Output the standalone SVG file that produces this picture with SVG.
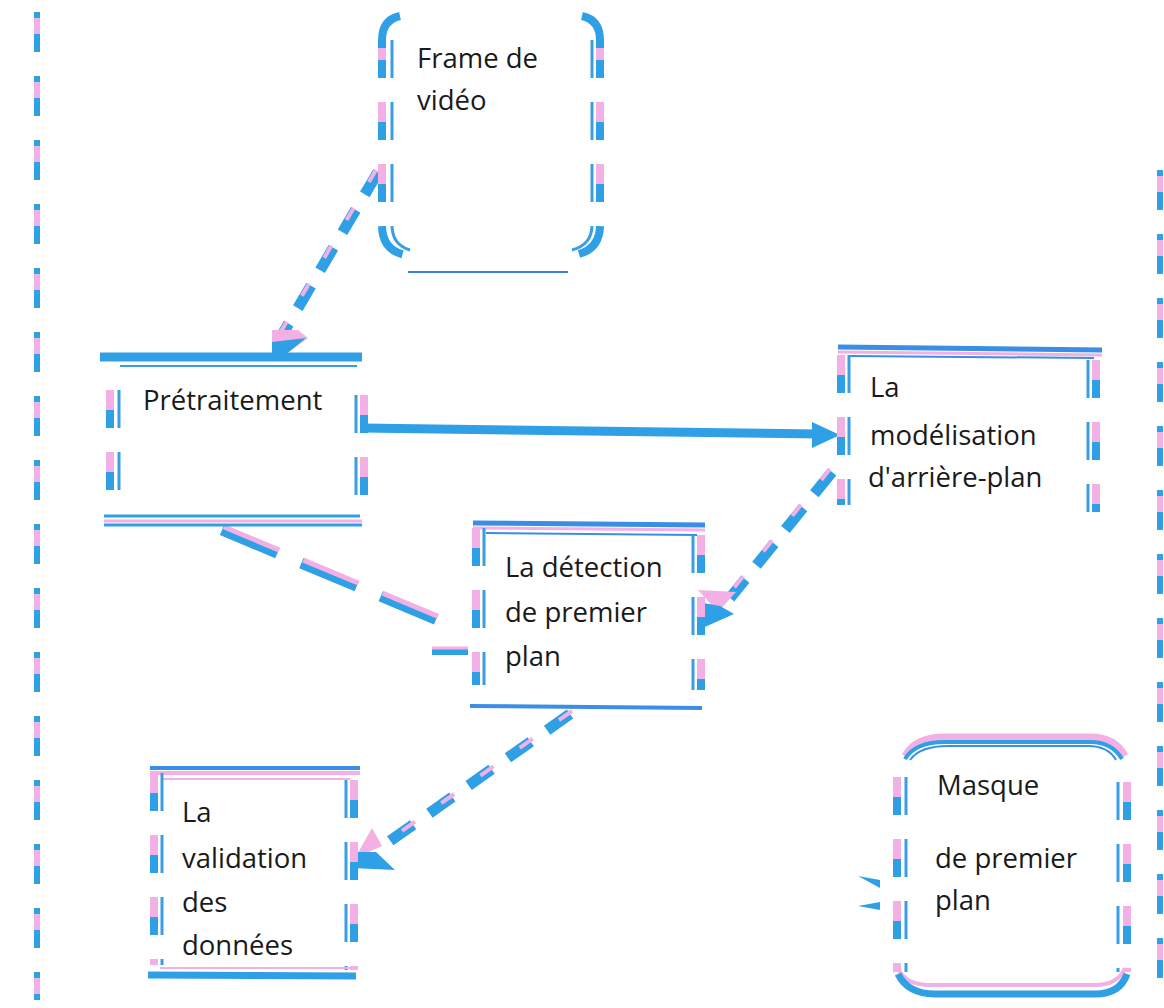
<svg xmlns="http://www.w3.org/2000/svg" width="1164" height="1008" viewBox="0 0 1164 1008">
<style>
.t{font-family:"Open Sans","Liberation Sans",sans-serif;font-size:27.5px;fill:#1a1a1a}
.ob{fill:none;stroke:#2fa0e6;stroke-width:8}
.op{fill:none;stroke:#f2b0e4;stroke-width:8}
.ib{fill:none;stroke:#3a9ee6;stroke-width:3}
.sd{stroke-dasharray:38 24}
.sp{stroke-dasharray:20 42}
.sdi{stroke-dasharray:38 24}
.ah{fill:#2fa0e6}
.ahp{fill:#f2b0e4}
.pg{fill:none;stroke:#2fa0e6;stroke-width:6;stroke-dasharray:40 24}
.pgp{fill:none;stroke:#f2b0e4;stroke-width:6;stroke-dasharray:0 6 16 42}
</style>
<rect width="1164" height="1008" fill="#ffffff"/>
<g id="page-lines">
<line class="pg" x1="37" y1="12" x2="37" y2="1000"/>
<line class="pgp" x1="37" y1="12" x2="37" y2="1000"/>
<line class="pg" x1="1160" y1="170" x2="1160" y2="1000"/>
<line class="pgp" x1="1160" y1="170" x2="1160" y2="1000"/>
</g>
<g id="connectors">
<line x1="378" y1="172" x2="282" y2="335" stroke="#2fa0e6" stroke-width="11" stroke-dasharray="26 18"/>
<line x1="376" y1="170" x2="280" y2="333" stroke="#f2b0e4" stroke-width="4" stroke-dasharray="14 30"/>
<polygon class="ahp" points="272,330 298,330 308,338 285,355 272,355"/>
<polygon class="ah" points="272,342 306,338 285,355 272,355"/>
<line x1="362" y1="428" x2="822" y2="434" stroke="#2fa0e6" stroke-width="9"/>
<polygon class="ah" points="812,422 840,435 812,448"/>
<line x1="832" y1="472" x2="730" y2="598" stroke="#2fa0e6" stroke-width="11" stroke-dasharray="28 18"/>
<line x1="830" y1="469" x2="728" y2="595" stroke="#f2b0e4" stroke-width="4" stroke-dasharray="14 32"/>
<polygon class="ahp" points="698,590 736,592 718,612"/>
<polygon class="ah" points="698,602 720,606 734,614 698,630"/>
<line x1="222" y1="530" x2="452" y2="626" stroke="#2fa0e6" stroke-width="11" stroke-dasharray="60 26"/>
<line x1="224" y1="527" x2="454" y2="623" stroke="#f2b0e4" stroke-width="5" stroke-dasharray="60 26"/>
<line x1="432" y1="652" x2="468" y2="652" stroke="#2fa0e6" stroke-width="6"/>
<line x1="432" y1="648" x2="468" y2="648" stroke="#f2b0e4" stroke-width="3"/>
<line x1="570" y1="714" x2="380" y2="848" stroke="#2fa0e6" stroke-width="11" stroke-dasharray="28 20"/>
<line x1="572" y1="711" x2="382" y2="845" stroke="#f2b0e4" stroke-width="4" stroke-dasharray="16 32"/>
<polygon class="ahp" points="355,858 372,828 382,846"/>
<polygon class="ah" points="352,868 395,870 376,852 355,852"/>
<polygon class="ah" points="858,876 880,880 880,888"/>
<polygon class="ah" points="858,906 880,902 880,910"/>
</g>
<g id="frame-video">
<path class="ob sd" d="M382,40 V225 Q382,250 405,255"/>
<path class="op sp" d="M382,40 V225"/>
<path class="ib sdi" d="M392,40 V225 Q392,245 410,250"/>
<path class="ob sd" d="M600,40 V225 Q600,250 575,255"/>
<path class="op sp" d="M600,40 V225"/>
<path class="ib sdi" d="M592,40 V225 Q592,245 572,250"/>
<path class="ob" d="M382,48 V40 Q382,20 400,16"/>
<path class="ob" d="M600,48 V40 Q600,20 582,16"/>
<line x1="408" y1="272" x2="568" y2="272" stroke="#3a7fe0" stroke-width="2"/>
<text class="t" x="417" y="68">Frame de</text>
<text class="t" x="417" y="110">vidéo</text>
</g>
<g id="pretraitement">
<line x1="100" y1="357" x2="362" y2="357" stroke="#2fa0e6" stroke-width="9"/>
<line x1="120" y1="366" x2="357" y2="366" stroke="#2fa0e6" stroke-width="2"/>
<path class="ob sd" d="M110,390 V495"/>
<path class="op sp" d="M110,390 V495"/>
<path class="ib sdi" d="M119,390 V495"/>
<path class="ob sd" d="M364,395 V500"/>
<path class="op sp" d="M364,395 V500"/>
<path class="ib sdi" d="M356,395 V500"/>
<line x1="104" y1="516" x2="360" y2="516" stroke="#2fa0e6" stroke-width="3"/>
<line x1="104" y1="521" x2="362" y2="521" stroke="#f2b0e4" stroke-width="3"/>
<line x1="104" y1="525" x2="362" y2="525" stroke="#2fa0e6" stroke-width="3"/>
<text class="t" x="143" y="410">Prétraitement</text>
</g>
<g id="modelisation">
<line x1="838" y1="347" x2="1102" y2="350" stroke="#3a8ee6" stroke-width="5"/>
<line x1="838" y1="352" x2="1102" y2="355" stroke="#f2b0e4" stroke-width="3"/>
<line x1="850" y1="356" x2="1094" y2="358" stroke="#3a8ee6" stroke-width="2"/>
<path class="ob sd" d="M841,355 V505"/>
<path class="op sp" d="M841,355 V505"/>
<path class="ib sdi" d="M849,355 V505"/>
<path class="ob sd" d="M1096,360 V512"/>
<path class="op sp" d="M1096,360 V512"/>
<path class="ib sdi" d="M1088,360 V512"/>
<text class="t" x="870" y="397">La</text>
<text class="t" x="870" y="445">modélisation</text>
<text class="t" x="868" y="487">d'arrière-plan</text>
</g>
<g id="detection">
<line x1="473" y1="523" x2="705" y2="525" stroke="#3a8ee6" stroke-width="5"/>
<line x1="473" y1="528" x2="705" y2="530" stroke="#f2b0e4" stroke-width="3"/>
<line x1="486" y1="533" x2="697" y2="535" stroke="#3a8ee6" stroke-width="2"/>
<path class="ob sd" d="M476,528 V685"/>
<path class="op sp" d="M476,528 V685"/>
<path class="ib sdi" d="M484,528 V685"/>
<path class="ob sd" d="M701,535 V690"/>
<path class="op sp" d="M701,535 V690"/>
<path class="ib sdi" d="M693,535 V690"/>
<line x1="470" y1="706" x2="702" y2="708" stroke="#3a8ee6" stroke-width="4"/>
<text class="t" x="505" y="577">La détection</text>
<text class="t" x="505" y="622">de premier</text>
<text class="t" x="505" y="666">plan</text>
</g>
<g id="validation">
<line x1="150" y1="768" x2="360" y2="768" stroke="#3a8ee6" stroke-width="4"/>
<line x1="150" y1="773" x2="360" y2="773" stroke="#f2b0e4" stroke-width="4"/>
<line x1="162" y1="779" x2="350" y2="779" stroke="#f2b0e4" stroke-width="2"/>
<path class="ob sd" d="M154,773 V965"/>
<path class="op sp" d="M154,773 V965"/>
<path class="ib sdi" d="M162,773 V965"/>
<path class="ob sd" d="M354,780 V970"/>
<path class="op sp" d="M354,780 V970"/>
<path class="ib sdi" d="M346,780 V970"/>
<line x1="160" y1="968" x2="350" y2="968" stroke="#f2b0e4" stroke-width="2"/>
<line x1="148" y1="975" x2="356" y2="976" stroke="#2fa0e6" stroke-width="7"/>
<text class="t" x="182" y="822">La</text>
<text class="t" x="182" y="868">validation</text>
<text class="t" x="182" y="912">des</text>
<text class="t" x="182" y="955">données</text>
</g>
<g id="masque">
<path d="M905,756 Q915,737 945,737 H1090 Q1115,737 1125,756" fill="none" stroke="#f2b0e4" stroke-width="7"/>
<path d="M905,759 Q915,742 945,742 H1090 Q1112,742 1122,759" fill="none" stroke="#2fa0e6" stroke-width="4"/>
<path d="M910,760 Q920,746 948,746 H1088 Q1108,746 1116,760" fill="none" stroke="#3a8ee6" stroke-width="2"/>
<path class="ob sd" d="M897,777 V972"/>
<path class="op sp" d="M897,777 V972"/>
<path class="ib sdi" d="M906,777 V972"/>
<path class="ob sd" d="M1127,782 V972"/>
<path class="op sp" d="M1127,782 V972"/>
<path class="ib sdi" d="M1118,782 V972"/>
<path d="M898,968 Q905,985 930,985 H1095 Q1118,985 1125,968" fill="none" stroke="#f2b0e4" stroke-width="4"/>
<path d="M898,974 Q908,994 935,994 H1095 Q1120,994 1127,974" fill="none" stroke="#2fa0e6" stroke-width="7"/>
<text class="t" x="937" y="795">Masque</text>
<text class="t" x="935" y="868">de premier</text>
<text class="t" x="935" y="910">plan</text>
</g>
</svg>
